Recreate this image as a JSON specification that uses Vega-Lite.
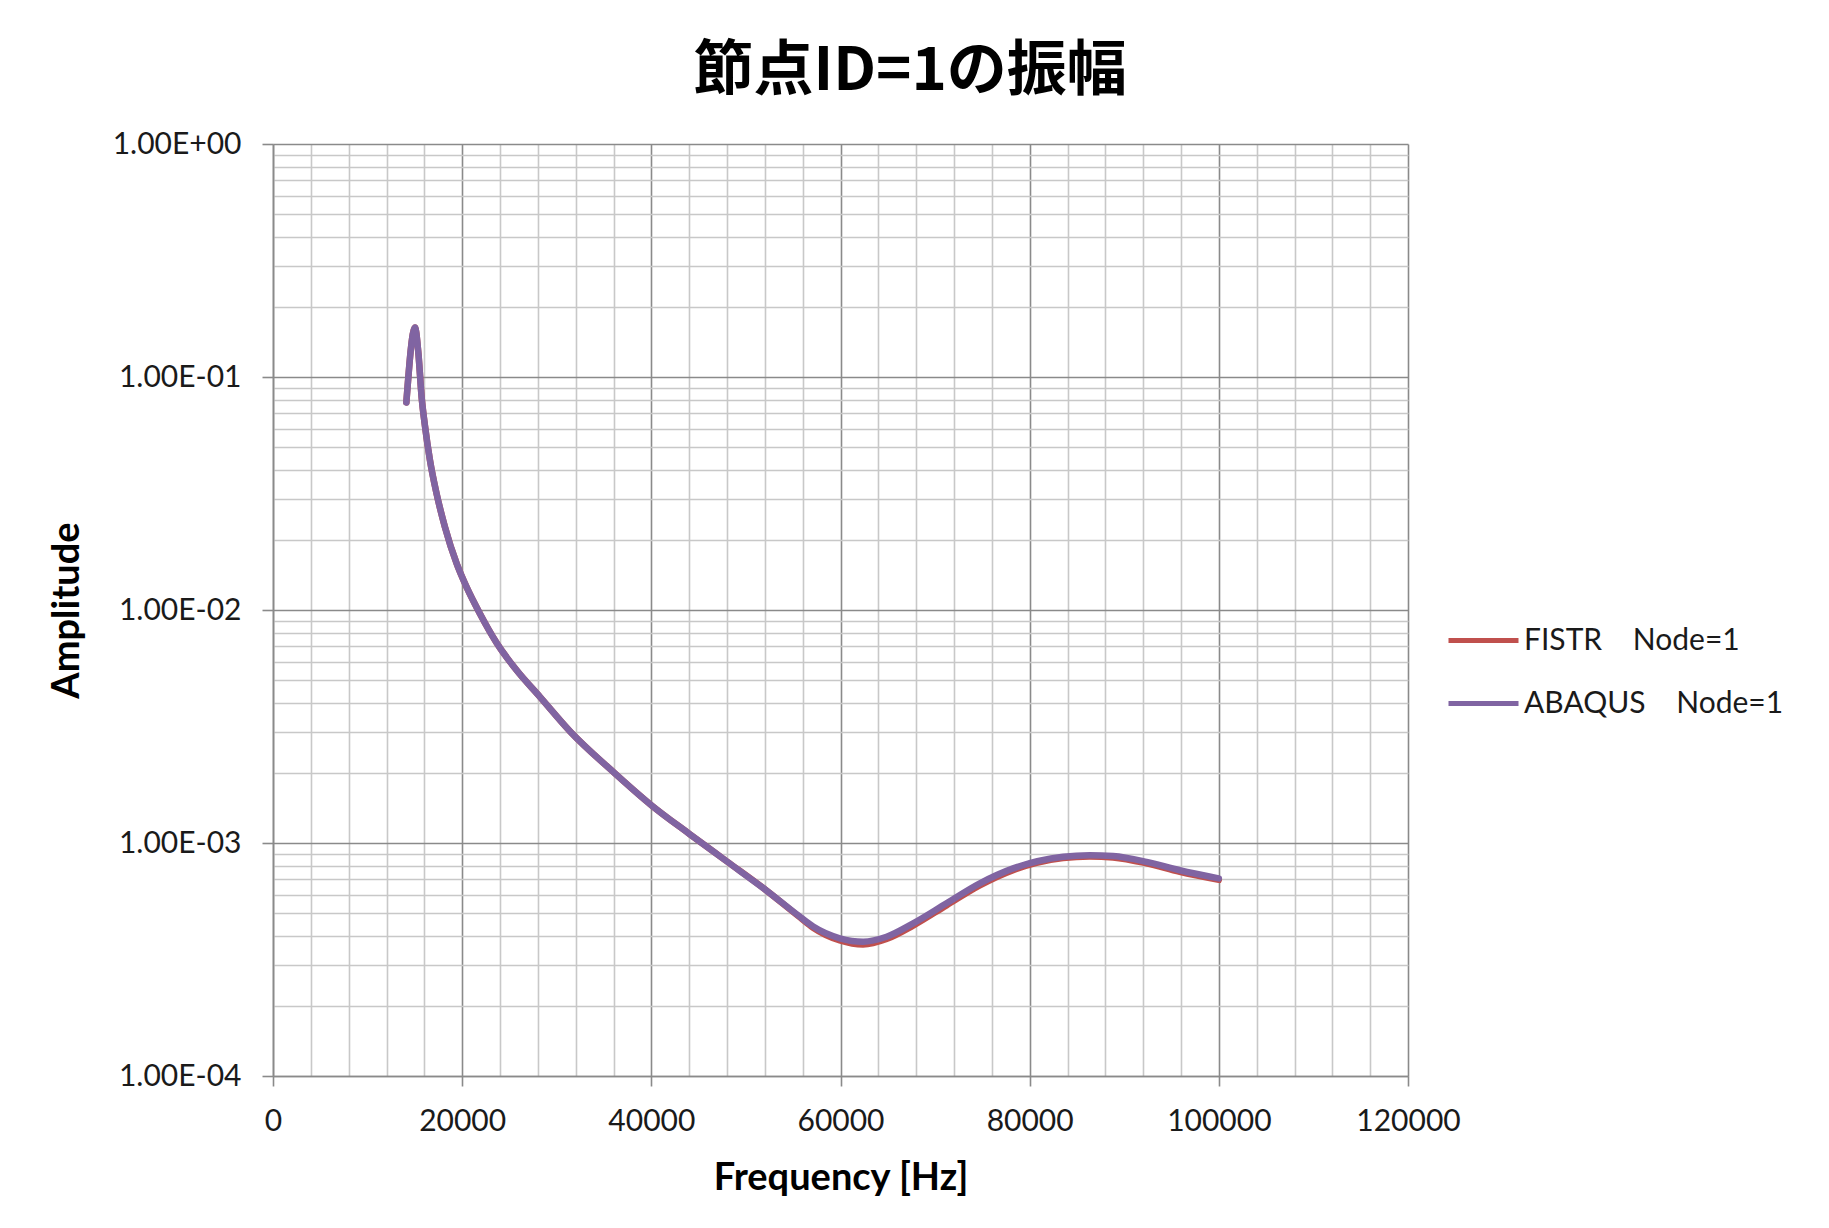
{
  "$schema": "https://vega.github.io/schema/vega-lite/v6.json",
  "width": 1135,
  "height": 932,
  "padding": {"left": 48, "top": 42, "right": 10, "bottom": 10},
  "background": "white",
  "title": {
    "text": "節点ID=1の振幅",
    "font": "Noto Sans CJK JP",
    "fontSize": 60,
    "fontWeight": "bold",
    "color": "#000000",
    "anchor": "middle",
    "frame": "bounds",
    "offset": 26,
    "dx": -6
  },
  "data": {
    "values": [
      {"f": 14100, "a": 0.0778, "s": "FISTR\u00a0\u00a0\u00a0\u00a0Node=1"},
      {"f": 15010, "a": 0.163, "s": "FISTR\u00a0\u00a0\u00a0\u00a0Node=1"},
      {"f": 15360, "a": 0.128, "s": "FISTR\u00a0\u00a0\u00a0\u00a0Node=1"},
      {"f": 15720, "a": 0.0815, "s": "FISTR\u00a0\u00a0\u00a0\u00a0Node=1"},
      {"f": 16070, "a": 0.0615, "s": "FISTR\u00a0\u00a0\u00a0\u00a0Node=1"},
      {"f": 16600, "a": 0.0438, "s": "FISTR\u00a0\u00a0\u00a0\u00a0Node=1"},
      {"f": 17300, "a": 0.0315, "s": "FISTR\u00a0\u00a0\u00a0\u00a0Node=1"},
      {"f": 18180, "a": 0.0227, "s": "FISTR\u00a0\u00a0\u00a0\u00a0Node=1"},
      {"f": 19420, "a": 0.0158, "s": "FISTR\u00a0\u00a0\u00a0\u00a0Node=1"},
      {"f": 20470, "a": 0.01253, "s": "FISTR\u00a0\u00a0\u00a0\u00a0Node=1"},
      {"f": 21880, "a": 0.00964, "s": "FISTR\u00a0\u00a0\u00a0\u00a0Node=1"},
      {"f": 23650, "a": 0.00722, "s": "FISTR\u00a0\u00a0\u00a0\u00a0Node=1"},
      {"f": 25760, "a": 0.00551, "s": "FISTR\u00a0\u00a0\u00a0\u00a0Node=1"},
      {"f": 28220, "a": 0.00424, "s": "FISTR\u00a0\u00a0\u00a0\u00a0Node=1"},
      {"f": 31390, "a": 0.00302, "s": "FISTR\u00a0\u00a0\u00a0\u00a0Node=1"},
      {"f": 35970, "a": 0.00202, "s": "FISTR\u00a0\u00a0\u00a0\u00a0Node=1"},
      {"f": 40030, "a": 0.00145, "s": "FISTR\u00a0\u00a0\u00a0\u00a0Node=1"},
      {"f": 44080, "a": 0.00109, "s": "FISTR\u00a0\u00a0\u00a0\u00a0Node=1"},
      {"f": 47960, "a": 0.000835, "s": "FISTR\u00a0\u00a0\u00a0\u00a0Node=1"},
      {"f": 52180, "a": 0.000625, "s": "FISTR\u00a0\u00a0\u00a0\u00a0Node=1"},
      {"f": 55700, "a": 0.000480, "s": "FISTR\u00a0\u00a0\u00a0\u00a0Node=1"},
      {"f": 57110, "a": 0.000433, "s": "FISTR\u00a0\u00a0\u00a0\u00a0Node=1"},
      {"f": 59930, "a": 0.000382, "s": "FISTR\u00a0\u00a0\u00a0\u00a0Node=1"},
      {"f": 62390, "a": 0.000367, "s": "FISTR\u00a0\u00a0\u00a0\u00a0Node=1"},
      {"f": 64870, "a": 0.000387, "s": "FISTR\u00a0\u00a0\u00a0\u00a0Node=1"},
      {"f": 67680, "a": 0.000442, "s": "FISTR\u00a0\u00a0\u00a0\u00a0Node=1"},
      {"f": 71210, "a": 0.000540, "s": "FISTR\u00a0\u00a0\u00a0\u00a0Node=1"},
      {"f": 74730, "a": 0.000658, "s": "FISTR\u00a0\u00a0\u00a0\u00a0Node=1"},
      {"f": 78250, "a": 0.000765, "s": "FISTR\u00a0\u00a0\u00a0\u00a0Node=1"},
      {"f": 83530, "a": 0.000862, "s": "FISTR\u00a0\u00a0\u00a0\u00a0Node=1"},
      {"f": 86350, "a": 0.000876, "s": "FISTR\u00a0\u00a0\u00a0\u00a0Node=1"},
      {"f": 88820, "a": 0.000867, "s": "FISTR\u00a0\u00a0\u00a0\u00a0Node=1"},
      {"f": 92350, "a": 0.000818, "s": "FISTR\u00a0\u00a0\u00a0\u00a0Node=1"},
      {"f": 95870, "a": 0.000752, "s": "FISTR\u00a0\u00a0\u00a0\u00a0Node=1"},
      {"f": 100000, "a": 0.000695, "s": "FISTR\u00a0\u00a0\u00a0\u00a0Node=1"},
      {"f": 14100, "a": 0.0778, "s": "ABAQUS\u00a0\u00a0\u00a0\u00a0Node=1"},
      {"f": 15010, "a": 0.163, "s": "ABAQUS\u00a0\u00a0\u00a0\u00a0Node=1"},
      {"f": 15360, "a": 0.128, "s": "ABAQUS\u00a0\u00a0\u00a0\u00a0Node=1"},
      {"f": 15720, "a": 0.0815, "s": "ABAQUS\u00a0\u00a0\u00a0\u00a0Node=1"},
      {"f": 16070, "a": 0.0615, "s": "ABAQUS\u00a0\u00a0\u00a0\u00a0Node=1"},
      {"f": 16600, "a": 0.0438, "s": "ABAQUS\u00a0\u00a0\u00a0\u00a0Node=1"},
      {"f": 17300, "a": 0.0315, "s": "ABAQUS\u00a0\u00a0\u00a0\u00a0Node=1"},
      {"f": 18180, "a": 0.0227, "s": "ABAQUS\u00a0\u00a0\u00a0\u00a0Node=1"},
      {"f": 19420, "a": 0.0158, "s": "ABAQUS\u00a0\u00a0\u00a0\u00a0Node=1"},
      {"f": 20470, "a": 0.01253, "s": "ABAQUS\u00a0\u00a0\u00a0\u00a0Node=1"},
      {"f": 21880, "a": 0.00964, "s": "ABAQUS\u00a0\u00a0\u00a0\u00a0Node=1"},
      {"f": 23650, "a": 0.00722, "s": "ABAQUS\u00a0\u00a0\u00a0\u00a0Node=1"},
      {"f": 25760, "a": 0.00551, "s": "ABAQUS\u00a0\u00a0\u00a0\u00a0Node=1"},
      {"f": 28220, "a": 0.00424, "s": "ABAQUS\u00a0\u00a0\u00a0\u00a0Node=1"},
      {"f": 31390, "a": 0.00302, "s": "ABAQUS\u00a0\u00a0\u00a0\u00a0Node=1"},
      {"f": 35970, "a": 0.00202, "s": "ABAQUS\u00a0\u00a0\u00a0\u00a0Node=1"},
      {"f": 40030, "a": 0.00145, "s": "ABAQUS\u00a0\u00a0\u00a0\u00a0Node=1"},
      {"f": 44080, "a": 0.00109, "s": "ABAQUS\u00a0\u00a0\u00a0\u00a0Node=1"},
      {"f": 47960, "a": 0.000835, "s": "ABAQUS\u00a0\u00a0\u00a0\u00a0Node=1"},
      {"f": 52180, "a": 0.000625, "s": "ABAQUS\u00a0\u00a0\u00a0\u00a0Node=1"},
      {"f": 55700, "a": 0.000483, "s": "ABAQUS\u00a0\u00a0\u00a0\u00a0Node=1"},
      {"f": 57110, "a": 0.000438, "s": "ABAQUS\u00a0\u00a0\u00a0\u00a0Node=1"},
      {"f": 59930, "a": 0.000390, "s": "ABAQUS\u00a0\u00a0\u00a0\u00a0Node=1"},
      {"f": 62390, "a": 0.000377, "s": "ABAQUS\u00a0\u00a0\u00a0\u00a0Node=1"},
      {"f": 64870, "a": 0.000396, "s": "ABAQUS\u00a0\u00a0\u00a0\u00a0Node=1"},
      {"f": 67680, "a": 0.000452, "s": "ABAQUS\u00a0\u00a0\u00a0\u00a0Node=1"},
      {"f": 71210, "a": 0.000551, "s": "ABAQUS\u00a0\u00a0\u00a0\u00a0Node=1"},
      {"f": 74730, "a": 0.000671, "s": "ABAQUS\u00a0\u00a0\u00a0\u00a0Node=1"},
      {"f": 78250, "a": 0.000778, "s": "ABAQUS\u00a0\u00a0\u00a0\u00a0Node=1"},
      {"f": 83530, "a": 0.000873, "s": "ABAQUS\u00a0\u00a0\u00a0\u00a0Node=1"},
      {"f": 86350, "a": 0.000887, "s": "ABAQUS\u00a0\u00a0\u00a0\u00a0Node=1"},
      {"f": 88820, "a": 0.000879, "s": "ABAQUS\u00a0\u00a0\u00a0\u00a0Node=1"},
      {"f": 92350, "a": 0.000830, "s": "ABAQUS\u00a0\u00a0\u00a0\u00a0Node=1"},
      {"f": 95870, "a": 0.000764, "s": "ABAQUS\u00a0\u00a0\u00a0\u00a0Node=1"},
      {"f": 100000, "a": 0.000705, "s": "ABAQUS\u00a0\u00a0\u00a0\u00a0Node=1"}
    ]
  },
  "mark": {"type": "line", "interpolate": "monotone", "strokeWidth": 6.5, "strokeCap": "round", "strokeJoin": "round"},
  "encoding": {
    "x": {
      "field": "f",
      "type": "quantitative",
      "title": "Frequency [Hz]",
      "scale": {"domain": [0, 120000], "nice": false, "zero": true},
      "axis": {
        "values": [0, 4000, 8000, 12000, 16000, 20000, 24000, 28000, 32000, 36000, 40000, 44000, 48000, 52000, 56000, 60000, 64000, 68000, 72000, 76000, 80000, 84000, 88000, 92000, 96000, 100000, 104000, 108000, 112000, 116000, 120000],
        "labelExpr": "datum.value % 20000 === 0 ? format(datum.value, 'd') : ''",
        "grid": true,
        "gridColor": {"condition": {"test": "datum.value % 20000 === 0", "value": "#8a8a8a"}, "value": "#c8c8c8"},
        "gridWidth": 1.6,
        "tickColor": "#8a8a8a",
        "tickSize": 10,
        "tickWidth": 1.6,
        "tickOpacity": {"condition": {"test": "datum.value % 20000 === 0", "value": 1}, "value": 0},
        "domainColor": "#8a8a8a",
        "domainWidth": 1.6,
        "labelFont": "Lato",
        "labelFontSize": 30,
        "labelColor": "#1a1a1a",
        "labelPadding": 20,
        "labelOverlap": false,
        "labelFlush": false,
        "titleFont": "Lato",
        "titleFontSize": 38,
        "titleFontWeight": "bold",
        "titleColor": "#000000",
        "titlePadding": 23
      }
    },
    "y": {
      "field": "a",
      "type": "quantitative",
      "title": "Amplitude",
      "scale": {"type": "log", "domain": [0.0001, 1], "nice": false},
      "axis": {
        "values": [0.0001, 0.0002, 0.0003, 0.0004, 0.0005, 0.0006, 0.0007, 0.0008, 0.0009, 0.001, 0.002, 0.003, 0.004, 0.005, 0.006, 0.007, 0.008, 0.009, 0.01, 0.02, 0.03, 0.04, 0.05, 0.06, 0.07, 0.08, 0.09, 0.1, 0.2, 0.3, 0.4, 0.5, 0.6, 0.7, 0.8, 0.9, 1],
        "labelExpr": "abs(log(datum.value)/LN10 - round(log(datum.value)/LN10)) < 0.001 ? '1.00E' + (round(log(datum.value)/LN10) < 0 ? '-' : '+') + '0' + abs(round(log(datum.value)/LN10)) : ''",
        "grid": true,
        "gridColor": {"condition": {"test": "abs(log(datum.value)/LN10 - round(log(datum.value)/LN10)) < 0.001", "value": "#8a8a8a"}, "value": "#c8c8c8"},
        "gridWidth": 1.6,
        "tickColor": "#8a8a8a",
        "tickSize": 11,
        "tickWidth": 1.6,
        "tickOpacity": {"condition": {"test": "abs(log(datum.value)/LN10 - round(log(datum.value)/LN10)) < 0.001", "value": 1}, "value": 0},
        "domainColor": "#8a8a8a",
        "domainWidth": 1.6,
        "labelFont": "Lato",
        "labelFontSize": 30,
        "labelColor": "#1a1a1a",
        "labelPadding": 21,
        "labelOverlap": false,
        "labelFlush": false,
        "titleFont": "Lato",
        "titleFontSize": 38,
        "titleFontWeight": "bold",
        "titleColor": "#000000",
        "titlePadding": 26
      }
    },
    "color": {
      "field": "s",
      "type": "nominal",
      "sort": ["FISTR\u00a0\u00a0\u00a0\u00a0Node=1", "ABAQUS\u00a0\u00a0\u00a0\u00a0Node=1"],
      "scale": {"domain": ["FISTR\u00a0\u00a0\u00a0\u00a0Node=1", "ABAQUS\u00a0\u00a0\u00a0\u00a0Node=1"], "range": ["#C0504D", "#8064A2"]},
      "legend": {
        "title": null,
        "orient": "none",
        "legendX": 1173,
        "legendY": 459,
        "symbolType": "stroke",
        "symbolStrokeWidth": 5,
        "symbolSize": 4900,
        "labelFont": "Lato",
        "labelFontSize": 30,
        "labelColor": "#1a1a1a",
        "labelOffset": 3,
        "rowPadding": 10,
        "labelLimit": 400
      }
    }
  },
  "config": {
    "view": {"stroke": null}
  }
}
